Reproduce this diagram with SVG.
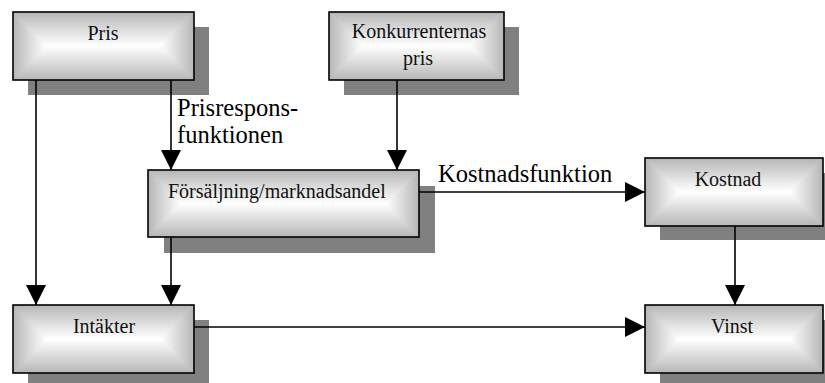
<svg xmlns="http://www.w3.org/2000/svg" width="825" height="383" viewBox="0 0 825 383">
  <style>
    .shadow { fill: #808080; }
    .vert { fill: url(#gVert); }
    .wl { fill: url(#gLeft); }
    .wr { fill: url(#gRight); }
    .frame { fill: none; stroke: #000; stroke-width: 1.6; }
    text { font-family: 'Liberation Serif', 'Times New Roman', serif; }
    .label { font-size: 20px; fill: #111; }
    .big { font-size: 24.5px; fill: #000; }
    .wire { stroke: #000; stroke-width: 1.6; fill: none; }
    .tip { fill: #000; }
  </style>
  <defs>
    <!-- rectangular shading: vertical ramp on the box, side wedges with horizontal ramps -->
    <linearGradient id="gVert" x1="0" y1="0" x2="0" y2="1">
      <stop offset="0" stop-color="#b6b6b6"/>
      <stop offset="0.5" stop-color="#ffffff"/>
      <stop offset="1" stop-color="#b6b6b6"/>
    </linearGradient>
    <linearGradient id="gLeft" x1="0" y1="0" x2="1" y2="0">
      <stop offset="0" stop-color="#b6b6b6"/>
      <stop offset="1" stop-color="#ffffff"/>
    </linearGradient>
    <linearGradient id="gRight" x1="1" y1="0" x2="0" y2="0">
      <stop offset="0" stop-color="#b6b6b6"/>
      <stop offset="1" stop-color="#ffffff"/>
    </linearGradient>
    <marker id="arrow" viewBox="0 0 20 20" refX="20" refY="10" markerWidth="20" markerHeight="20" markerUnits="userSpaceOnUse" orient="auto">
      <path d="M0,0 L20,10 L0,20 Z" class="tip"/>
    </marker>
  </defs>

  <!-- nodes -->
  <g id="pris">
    <rect class="shadow" x="28" y="27" width="181" height="68"/>
    <rect class="vert" x="13" y="12" width="181" height="68"/>
    <polygon class="wl" points="13,12 13,80 47,46"/>
    <polygon class="wr" points="194,12 194,80 160,46"/>
    <rect class="frame" x="13" y="12" width="181" height="68"/>
    <text class="label" x="103" y="40" text-anchor="middle">Pris</text>
  </g>

  <g id="konkurrenternas-pris">
    <rect class="shadow" x="344" y="27" width="175" height="68"/>
    <rect class="vert" x="329" y="12" width="175" height="68"/>
    <polygon class="wl" points="329,12 329,80 363,46"/>
    <polygon class="wr" points="504,12 504,80 470,46"/>
    <rect class="frame" x="329" y="12" width="175" height="68"/>
    <text class="label" x="419" y="38" text-anchor="middle">Konkurrenternas</text>
    <text class="label" x="418" y="65" text-anchor="middle">pris</text>
  </g>

  <g id="forsaljning">
    <rect class="shadow" x="164" y="186" width="271" height="67"/>
    <rect class="vert" x="148" y="170" width="271" height="67"/>
    <polygon class="wl" points="148,170 148,237 181.5,203.5"/>
    <polygon class="wr" points="419,170 419,237 385.5,203.5"/>
    <rect class="frame" x="148" y="170" width="271" height="67"/>
    <text class="label" x="168" y="198">Försäljning/marknadsandel</text>
  </g>

  <g id="kostnad">
    <rect class="shadow" x="660" y="173" width="178" height="67"/>
    <rect class="vert" x="645" y="158" width="178" height="68"/>
    <polygon class="wl" points="645,158 645,226 679,192"/>
    <polygon class="wr" points="823,158 823,226 789,192"/>
    <rect class="frame" x="645" y="158" width="178" height="68"/>
    <text class="label" x="728" y="186" text-anchor="middle">Kostnad</text>
  </g>

  <g id="intakter">
    <rect class="shadow" x="28" y="320" width="181" height="68"/>
    <rect class="vert" x="13" y="305" width="181" height="68"/>
    <polygon class="wl" points="13,305 13,373 47,339"/>
    <polygon class="wr" points="194,305 194,373 160,339"/>
    <rect class="frame" x="13" y="305" width="181" height="68"/>
    <text class="label" x="104" y="333" text-anchor="middle">Intäkter</text>
  </g>

  <g id="vinst">
    <rect class="shadow" x="660" y="320" width="178" height="68"/>
    <rect class="vert" x="645" y="305" width="178" height="68"/>
    <polygon class="wl" points="645,305 645,373 679,339"/>
    <polygon class="wr" points="823,305 823,373 789,339"/>
    <rect class="frame" x="645" y="305" width="178" height="68"/>
    <text class="label" x="732" y="333" text-anchor="middle">Vinst</text>
  </g>

  <!-- connectors -->
  <g id="connectors">
    <line class="wire" x1="36" y1="80" x2="36" y2="305" marker-end="url(#arrow)"/>
    <line class="wire" x1="171" y1="80" x2="171" y2="170" marker-end="url(#arrow)"/>
    <line class="wire" x1="397" y1="80" x2="397" y2="170" marker-end="url(#arrow)"/>
    <line class="wire" x1="171" y1="237" x2="171" y2="305" marker-end="url(#arrow)"/>
    <line class="wire" x1="419" y1="192" x2="645" y2="192" marker-end="url(#arrow)"/>
    <line class="wire" x1="735" y1="226" x2="735" y2="305" marker-end="url(#arrow)"/>
    <line class="wire" x1="194" y1="327" x2="645" y2="327" marker-end="url(#arrow)"/>
    <text class="big" x="177" y="116">Prisrespons-</text>
    <text class="big" x="177" y="143">funktionen</text>
    <text class="big" x="438" y="182">Kostnadsfunktion</text>
  </g>
</svg>
